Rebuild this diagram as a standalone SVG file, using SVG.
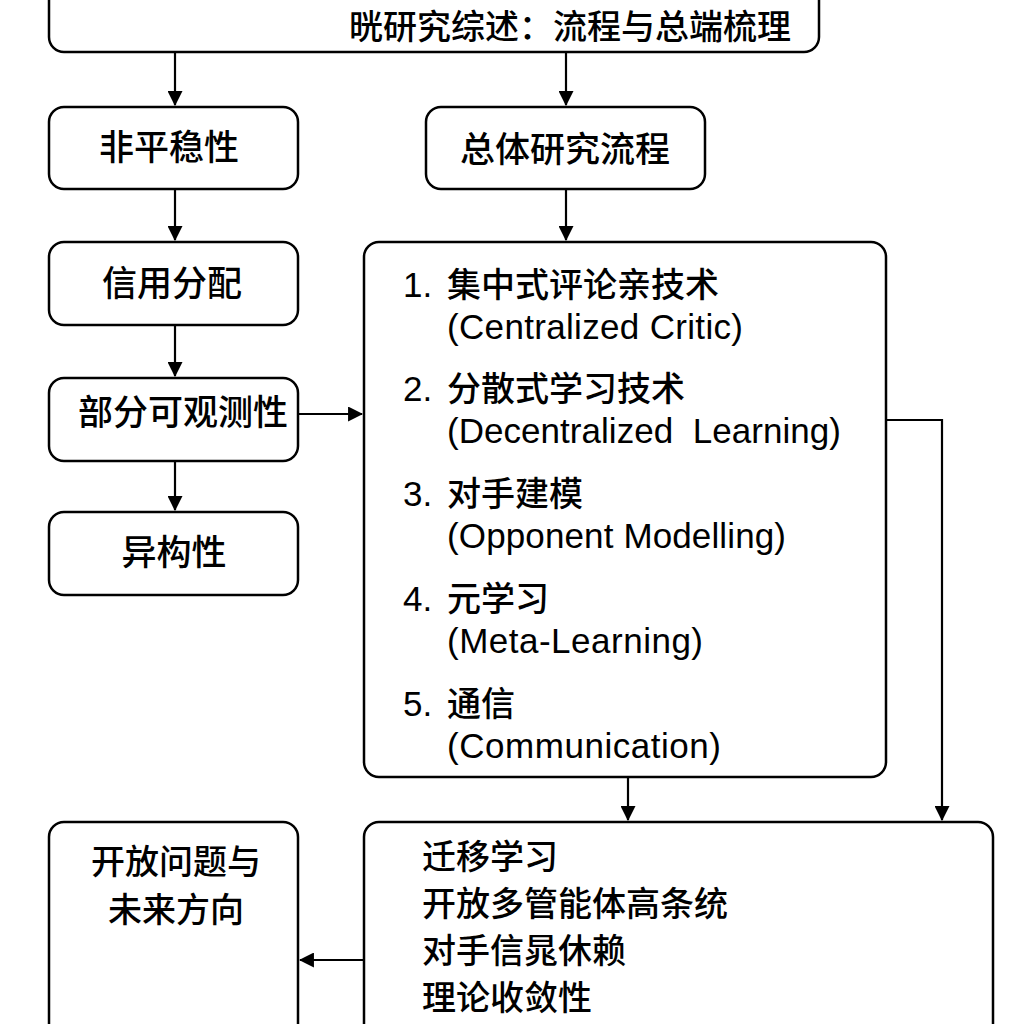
<svg xmlns="http://www.w3.org/2000/svg" width="1024" height="1024" viewBox="0 0 1024 1024">
<defs>
<marker id="ah" viewBox="0 0 14 14" refX="13" refY="7" markerWidth="15" markerHeight="15" markerUnits="userSpaceOnUse" orient="auto">
<path d="M0,0 L14,7 L0,14 Z" fill="#000"/>
</marker>
<style>
.box{fill:#fff;stroke:#000;stroke-width:2.5}
.t{font-family:"Noto Sans CJK SC","Liberation Sans",sans-serif;font-size:34px;fill:#000;font-weight:500}
.c{text-anchor:middle}
.n{font-family:"Liberation Sans",Arial,sans-serif;font-size:35px;fill:#000}
.l{font-family:"Liberation Sans",Arial,sans-serif;font-size:35px;fill:#000}
.e{fill:none;stroke:#000;stroke-width:2.2}
</style>
</defs>
<rect width="1024" height="1024" fill="#fff"/>
<g id="connectors">
<line class="e" x1="175" y1="52" x2="175" y2="105" marker-end="url(#ah)"/>
<line class="e" x1="566" y1="52" x2="566" y2="105" marker-end="url(#ah)"/>
<line class="e" x1="175" y1="189" x2="175" y2="240" marker-end="url(#ah)"/>
<line class="e" x1="566" y1="189" x2="566" y2="240" marker-end="url(#ah)"/>
<line class="e" x1="175" y1="325" x2="175" y2="376" marker-end="url(#ah)"/>
<line class="e" x1="175" y1="461" x2="175" y2="510" marker-end="url(#ah)"/>
<line class="e" x1="298" y1="414" x2="362" y2="414" marker-end="url(#ah)"/>
<line class="e" x1="628" y1="777" x2="628" y2="820" marker-end="url(#ah)"/>
<polyline class="e" points="886,420 942,420 942,820" marker-end="url(#ah)"/>
<line class="e" x1="364" y1="960" x2="300" y2="960" marker-end="url(#ah)"/>
</g>
<g id="title">
<rect class="box" x="49" y="-40" width="770" height="92" rx="15"/>
<text class="t c" x="570" y="39" style="font-size:34px">晄研究综述：流程与总端梳理</text>
</g>
<g id="n1">
<rect class="box" x="49" y="107" width="249" height="82" rx="15"/>
<text class="t c" x="169" y="160" style="font-size:35px">非平稳性</text>
</g>
<g id="n2">
<rect class="box" x="426" y="107" width="279" height="82" rx="15"/>
<text class="t c" x="565" y="162" style="font-size:35px">总体研究流程</text>
</g>
<g id="n3">
<rect class="box" x="49" y="242" width="249" height="83" rx="15"/>
<text class="t c" x="172" y="296" style="font-size:35px">信用分配</text>
</g>
<g id="n4">
<rect class="box" x="49" y="378" width="249" height="83" rx="15"/>
<text class="t c" x="183" y="425" style="font-size:35px">部分可观测性</text>
</g>
<g id="n5">
<rect class="box" x="49" y="512" width="249" height="83" rx="15"/>
<text class="t c" x="174" y="565" style="font-size:35px">异构性</text>
</g>
<g id="methods">
<rect class="box" x="364" y="242" width="522" height="535" rx="15"/>
<text class="n" x="403" y="297">1.</text>
<text class="t" x="447" y="297">集中式评论亲技术</text>
<text class="l" x="447" y="339" textLength="296" lengthAdjust="spacing">(Centralized Critic)</text>
<text class="n" x="403" y="401">2.</text>
<text class="t" x="447" y="401">分散式学习技术</text>
<text class="l" x="447" y="443" textLength="394" lengthAdjust="spacing" xml:space="preserve">(Decentralized  Learning)</text>
<text class="n" x="403" y="506">3.</text>
<text class="t" x="447" y="506">对手建模</text>
<text class="l" x="447" y="548" textLength="339" lengthAdjust="spacing">(Opponent Modelling)</text>
<text class="n" x="403" y="611">4.</text>
<text class="t" x="447" y="611">元学习</text>
<text class="l" x="447" y="653" textLength="256" lengthAdjust="spacing">(Meta-Learning)</text>
<text class="n" x="403" y="716">5.</text>
<text class="t" x="447" y="716">通信</text>
<text class="l" x="447" y="758" textLength="274" lengthAdjust="spacing">(Communication)</text>
</g>
<g id="challenges">
<rect class="box" x="364" y="822" width="629" height="240" rx="15"/>
<text class="t" x="422" y="869">迁移学习</text>
<text class="t" x="422" y="916">开放多管能体高条统</text>
<text class="t" x="422" y="963">对手信晁休赖</text>
<text class="t" x="422" y="1010">理论收敛性</text>
</g>
<g id="future">
<rect class="box" x="49" y="822" width="249" height="240" rx="15"/>
<text class="t c" x="176" y="874">开放问题与</text>
<text class="t c" x="176" y="922">未来方向</text>
</g>
</svg>
